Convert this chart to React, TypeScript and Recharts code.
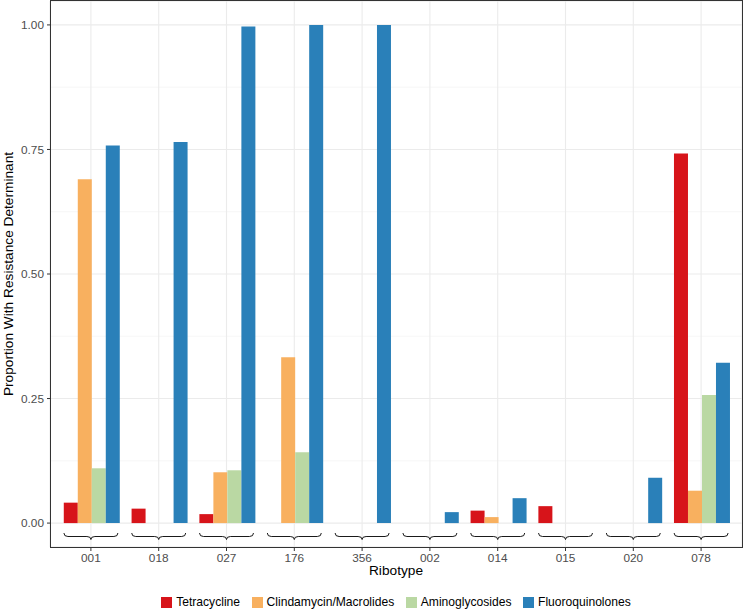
import React from 'react';
import { BarChart, Bar, XAxis, YAxis, CartesianGrid, Legend } from 'recharts';

const ribotypes = ['001', '018', '027', '176', '356', '002', '014', '015', '020', '078'];
const tetracycline = [0.041, 0.029, 0.018, 0, 0, 0, 0.025, 0.034, 0, 0.742];
const clindamycin = [0.69, 0, 0.102, 0.333, 0, 0, 0.012, 0, 0, 0.065];
const aminoglycosides = [0.11, 0, 0.106, 0.142, 0, 0, 0, 0, 0, 0.257];
const fluoroquinolones = [0.758, 0.765, 0.997, 1.0, 1.0, 0.022, 0.05, 0, 0.091, 0.322];

const seriesNames = ['Tetracycline', 'Clindamycin/Macrolides', 'Aminoglycosides', 'Fluoroquinolones'];
const seriesColors = ['#d7141a', '#f8b05f', '#bad8a3', '#2a80b9'];
const yTicks = [0, 0.25, 0.5, 0.75, 1];
const yMinorTicks = [0.125, 0.375, 0.625, 0.875];

const data = ribotypes.map((r, i) => ({
  ribotype: r,
  tet: tetracycline[i],
  clin: clindamycin[i],
  amino: aminoglycosides[i],
  fluoro: fluoroquinolones[i],
}));
const keys = ['tet', 'clin', 'amino', 'fluoro'];

const TICK_SIZE = 4;
const TICK_MARGIN = 3;
const BRACE_HALF = 27;

// x tick: the brace over each group plus the ribotype label
const RibotypeTick = ({ x, y, payload }: any) => {
  const axisY = y - TICK_SIZE - TICK_MARGIN;
  const y0 = axisY - 14;
  const y1 = axisY - 10.5;
  const y2 = axisY - 7.5;
  const l = x - BRACE_HALF;
  const r = x + BRACE_HALF;
  const d = `M${l},${y0} Q${l},${y1} ${l + 4},${y1} L${x - 4},${y1} Q${x},${y1} ${x},${y2} Q${x},${y1} ${x + 4},${y1} L${r - 4},${y1} Q${r},${y1} ${r},${y0}`;
  return (
    <g>
      <path d={d} fill="none" stroke="#000" strokeWidth={0.9} />
      <text x={x} y={y + 8.3} textAnchor="middle" fill="#4d4d4d" fontSize={11.8}>
        {payload.value}
      </text>
    </g>
  );
};

// legend in the series order (recharts sorts its payload by name)
const LegendContent = () => (
  <div style={{ display: 'flex', justifyContent: 'center', alignItems: 'center', fontSize: 12.1, color: '#000' }}>
    {seriesNames.map((n, i) => (
      <div key={n} style={{ display: 'flex', alignItems: 'center', marginRight: i < 3 ? 11.5 : 0 }}>
        <span style={{ width: 11, height: 11, background: seriesColors[i], marginRight: 4, display: 'inline-block' }} />
        <span>{n}</span>
      </div>
    ))}
  </div>
);

export default function App() {
  return (
    <div style={{ position: 'absolute', left: 0, top: 0, width: 743, height: 609, background: '#fff', fontFamily: '"Liberation Sans", Arial, Helvetica, sans-serif' }}>
      <BarChart
        width={743}
        height={609}
        data={data}
        margin={{ top: 1, right: 1, left: 0, bottom: 0 }}
        barCategoryGap="10%"
        barGap={0}
      >
        <CartesianGrid yAxisId="minor" vertical={false} stroke="#f3f3f3" strokeWidth={0.7} />
        <CartesianGrid stroke="#ebebeb" strokeWidth={1.1} />
        <XAxis
          dataKey="ribotype"
          height={62}
          padding={{ left: 7, right: 7 }}
          tickSize={TICK_SIZE}
          tickMargin={TICK_MARGIN}
          tickLine={{ stroke: '#333' }}
          axisLine={false}
          tick={<RibotypeTick />}
          interval={0}
          label={() => (
            <text x={396} y={575} textAnchor="middle" fontSize={13.7} fill="#000">
              Ribotype
            </text>
          )}
        />
        <YAxis
          width={50}
          domain={[-0.048, 1.048]}
          allowDataOverflow
          ticks={yTicks}
          tickFormatter={(v: number) => v.toFixed(2)}
          tickSize={3}
          tickMargin={3}
          tickLine={{ stroke: '#333' }}
          axisLine={false}
          tick={{ fill: '#4d4d4d', fontSize: 11.8 }}
          label={() => (
            <text transform="translate(13,274) rotate(-90)" textAnchor="middle" fontSize={13.7} fill="#000">
              Proportion With Resistance Determinant
            </text>
          )}
        />
        <YAxis yAxisId="minor" hide domain={[-0.048, 1.048]} allowDataOverflow ticks={yMinorTicks} />
        <Legend
          layout="horizontal"
          align="center"
          verticalAlign="middle"
          wrapperStyle={{ top: 595, left: 50, width: 692, height: 12 }}
          content={<LegendContent />}
        />
        {keys.map((k, i) => (
          <Bar key={k} dataKey={k} name={seriesNames[i]} fill={seriesColors[i]} isAnimationActive={false} />
        ))}
      </BarChart>
      <div
        style={{
          position: 'absolute',
          left: 50,
          top: 0,
          width: 693,
          height: 548,
          boxSizing: 'border-box',
          border: '1px solid #333',
          pointerEvents: 'none',
        }}
      />
    </div>
  );
}
